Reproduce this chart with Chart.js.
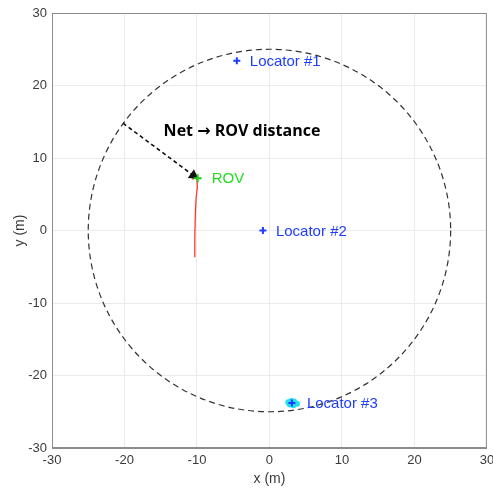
<!DOCTYPE html>
<html>
<head>
<meta charset="utf-8">
<script src="https://cdn.jsdelivr.net/npm/chart.js@4/dist/chart.umd.min.js"></script>
<style>
  html, body { margin: 0; padding: 0; background: #fff; }
  #wrap { width: 493px; height: 488px; }
</style>
</head>
<body>
<div id="wrap"><canvas id="grafico"></canvas></div>
<script>
// Datos
const axisTicks = [-30, -20, -10, 0, 10, 20, 30];
const netRadius = 25;

const locatorNames = ["Locator #1", "Locator #2", "Locator #3"];
const locatorX = [-4.5, -0.9, 3.1];
const locatorY = [23.4, 0.0, -23.8];

// nube cian alrededor del Locator #3
const cloudX = [2.6, 3.0, 3.4, 3.8, 3.3, 2.8];
const cloudY = [-23.7, -23.5, -23.6, -23.9, -24.1, -24.0];

// trayectoria del ROV (rojo)
const trackX = [-10.6, -10.2, -10.0, -10.0, -9.95, -10.1, -10.2, -10.25, -10.3, -10.3, -10.3];
const trackY = [7.0, 7.8, 7.3, 6.9, 6.0, 4.6, 2.8, 1.0, -0.9, -2.7, -3.7];

const rovX = [-9.9];
const rovY = [7.2];

// flecha red -> ROV
const arrowX = [-20.2, -10.5];
const arrowY = [14.8, 7.6];

const pts = (xs, ys) => xs.map((x, i) => ({ x, y: ys[i] }));

// Dibuja el círculo de la red, el marco y los textos
const extras = {
  id: "extras",
  beforeDatasetsDraw(chart) {
    const { ctx, scales: { x, y }, chartArea: a } = chart;
    ctx.save();
    ctx.strokeStyle = "#8c8c8c";
    ctx.lineWidth = 1;
    ctx.strokeRect(a.left + 0.5, a.top + 0.5, a.width - 1, a.height - 1);
    const cx = x.getPixelForValue(0), cy = y.getPixelForValue(0);
    const rx = x.getPixelForValue(netRadius) - cx;
    const ry = cy - y.getPixelForValue(netRadius);
    ctx.beginPath();
    ctx.setLineDash([6, 4]);
    ctx.strokeStyle = "#333";
    ctx.lineWidth = 1.2;
    ctx.ellipse(cx, cy, rx, ry, 0, 0, Math.PI * 2);
    ctx.stroke();
    ctx.restore();
  },
  afterDatasetsDraw(chart) {
    const { ctx, scales: { x, y } } = chart;
    ctx.save();
    ctx.textBaseline = "middle";
    ctx.textAlign = "left";
    ctx.font = "15px 'Liberation Sans', Arial, sans-serif";
    ctx.fillStyle = "#1f3dff";
    locatorNames.forEach((name, i) => {
      const dx = i === 2 ? 15 : 13;
      ctx.fillText(name, x.getPixelForValue(locatorX[i]) + dx, y.getPixelForValue(locatorY[i]) + 1);
    });
    ctx.fillStyle = "#22dd22";
    ctx.fillText("ROV", x.getPixelForValue(rovX[0]) + 14, y.getPixelForValue(rovY[0]) + 1);

    // texto en negrita con la flecha
    ctx.fillStyle = "#000";
    let px = x.getPixelForValue(-14.6);
    const py = y.getPixelForValue(13.6);
    ctx.font = "bold 16px 'Open Sans', 'Liberation Sans', sans-serif";
    ctx.fillText("Net ", px, py);
    px += ctx.measureText("Net ").width;
    ctx.font = "bold 16px 'DejaVu Sans', sans-serif";
    ctx.fillText("\u2192", px, py);
    px += ctx.measureText("\u2192").width;
    ctx.font = "bold 16px 'Open Sans', 'Liberation Sans', sans-serif";
    ctx.fillText(" ROV distance", px, py);
    ctx.restore();
  }
};

const escala = (titulo, tituloPad) => ({
  type: "linear",
  min: -30,
  max: 30,
  afterBuildTicks: s => { s.ticks = axisTicks.map(v => ({ value: v })); },
  grid: { color: "#ebebeb", drawTicks: false },
  border: { color: "#8c8c8c" },
  ticks: {
    color: "#3a3a3a",
    padding: 5,
    font: { family: "'Liberation Sans', Arial, sans-serif", size: 13 }
  },
  title: {
    display: true,
    text: titulo,
    color: "#3a3a3a",
    padding: tituloPad,
    font: { family: "'Liberation Sans', Arial, sans-serif", size: 14 }
  }
});

const xScale = escala("x (m)", 0);
xScale.afterFit = s => { s.height = 40; s.paddingLeft = 0; s.paddingRight = 0; };
const yScale = escala("y (m)", { top: 12, bottom: 0 });
yScale.afterFit = s => { s.width = 52; s.paddingTop = 0; s.paddingBottom = 0; };

new Chart(document.getElementById("grafico"), {
  type: "scatter",
  data: {
    datasets: [
      {
        label: "locators",
        order: 0,
        data: pts(locatorX, locatorY),
        pointStyle: "cross",
        pointRadius: 3.5,
        borderColor: "#1f3dff",
        borderWidth: 2
      },
      {
        label: "ROV",
        order: 1,
        data: pts(rovX, rovY),
        pointStyle: "cross",
        pointRadius: 4,
        borderColor: "#22cc22",
        borderWidth: 2
      },
      {
        label: "flecha",
        order: 2,
        data: pts(arrowX, arrowY),
        showLine: true,
        borderColor: "#111",
        borderWidth: 1.6,
        borderDash: [4, 3],
        pointStyle: "triangle",
        pointRadius: [0, 4.5],
        pointRotation: 126,
        backgroundColor: "#111",
        pointBorderColor: "#111"
      },
      {
        label: "trayectoria",
        order: 3,
        data: pts(trackX, trackY),
        showLine: true,
        borderColor: "#ff3b30",
        borderWidth: 1.3,
        pointRadius: 0,
        tension: 0.2
      },
      {
        label: "nube",
        order: 4,
        data: pts(cloudX, cloudY),
        backgroundColor: "#22e0f0",
        borderWidth: 0,
        pointRadius: 3
      }
    ]
  },
  options: {
    responsive: true,
    maintainAspectRatio: false,
    animation: false,
    layout: { padding: { top: 13, right: 6, left: 0, bottom: 0 } },
    plugins: { legend: { display: false }, tooltip: { enabled: false } },
    scales: { x: xScale, y: yScale }
  },
  plugins: [extras]
});
</script>
</body>
</html>
